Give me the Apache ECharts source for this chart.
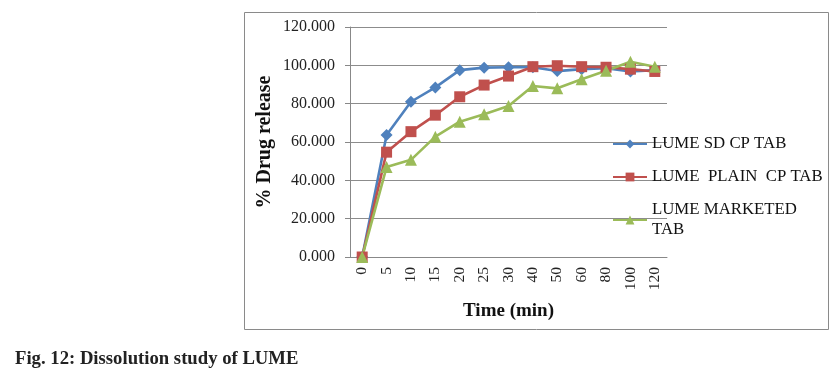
<!DOCTYPE html>
<html>
<head>
<meta charset="utf-8">
<script src="https://cdn.jsdelivr.net/npm/echarts@6/dist/echarts.min.js"></script>
<style>html,body{margin:0;padding:0;background:#fff;}#c{width:837px;height:372px;}</style>
</head>
<body>
<div id="c"></div>
<script>
const categories = ['0','5','10','15','20','25','30','40','50','60','80','100','120'];
const seriesNames = ['LUME SD CP TAB', 'LUME  PLAIN  CP TAB', 'LUME MARKETED TAB'];
const sdCpTab = [0, 63.7, 81.0, 88.5, 97.5, 98.8, 99.0, 99.0, 97.0, 98.0, 98.5, 96.8, 97.5];
const plainCpTab = [0, 54.7, 65.4, 74.0, 83.6, 89.7, 94.4, 99.3, 99.8, 99.3, 99.0, 98.0, 96.8];
const marketedTab = [0, 46.9, 50.7, 62.8, 70.6, 74.5, 78.8, 89.2, 88.0, 92.7, 97.2, 101.9, 99.3];
const yTicks = { min: 0, max: 120, interval: 20 };

const serif = '"Liberation Serif", "Times New Roman", serif';
const chart = echarts.init(document.getElementById('c'), null, { renderer: 'canvas' });
const mk = (name, data, color, symbol, size) => ({
  name, type: 'line', data, symbol, symbolSize: size,
  lineStyle: { color, width: 2.6 }, itemStyle: { color },
  animation: false
});
chart.setOption({
  backgroundColor: '#fff',
  title: {
    text: 'Fig. 12: Dissolution study of LUME',
    left: 10, top: 345,
    textStyle: { fontFamily: serif, fontWeight: 'bold', fontSize: 18.7, color: '#222' }
  },
  graphic: [{
    type: 'rect', left: 242, top: 10,
    shape: { width: 584, height: 317 },
    style: { fill: 'none', stroke: '#8a8a8a', lineWidth: 1 }
  }],
  grid: { left: 350, right: 170, top: 27, bottom: 115, containLabel: false },
  legend: {
    orient: 'vertical', left: 607, top: 129,
    itemWidth: 34, itemHeight: 11, itemGap: 13,
    data: seriesNames,
    formatter: n => n.indexOf('MARKETED') >= 0 ? 'LUME MARKETED\nTAB' : n,
    textStyle: { fontFamily: serif, fontSize: 16.8, color: '#111', lineHeight: 20 }
  },
  xAxis: {
    type: 'category', data: categories, boundaryGap: true,
    name: 'Time (min)', nameLocation: 'middle', nameGap: 45,
    nameTextStyle: { fontFamily: serif, fontWeight: 'bold', fontSize: 19, color: '#111' },
    axisLine: { lineStyle: { color: '#888' } },
    axisTick: { show: false },
    axisLabel: { rotate: 90, margin: 10, fontFamily: serif, fontSize: 15.5, color: '#222' }
  },
  yAxis: {
    type: 'value', min: yTicks.min, max: yTicks.max, interval: yTicks.interval,
    name: '% Drug release', nameLocation: 'middle', nameGap: 75, nameRotate: 90,
    nameTextStyle: { fontFamily: serif, fontWeight: 'bold', fontSize: 20, color: '#111' },
    axisLine: { show: true, lineStyle: { color: '#888' } },
    axisTick: { show: true, length: 5, lineStyle: { color: '#888' } },
    axisLabel: { fontFamily: serif, fontSize: 16, color: '#222', margin: 15,
      formatter: v => v.toFixed(3) },
    splitLine: { lineStyle: { color: '#8c8c8c', width: 1 } }
  },
  series: [
    mk(seriesNames[0], sdCpTab, '#4F81BD', 'diamond', 12),
    mk(seriesNames[1], plainCpTab, '#C0504D', 'rect', 11),
    mk(seriesNames[2], marketedTab, '#9BBB59', 'triangle', 12)
  ]
});
</script>
</body>
</html>
